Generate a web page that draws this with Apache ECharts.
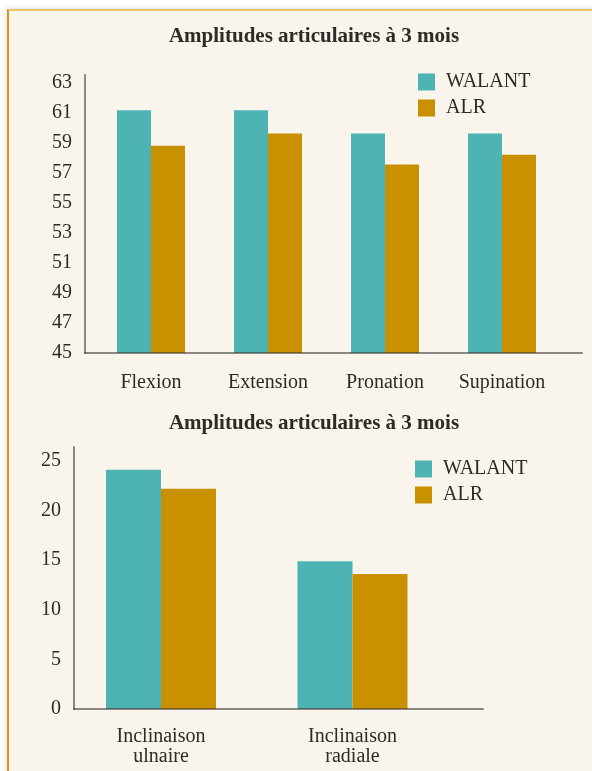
<!DOCTYPE html>
<html>
<head>
<meta charset="utf-8">
<script src="https://cdn.jsdelivr.net/npm/echarts@6/dist/echarts.min.js"></script>
<style>
  html, body { margin: 0; padding: 0; background: #ffffff; width: 592px; height: 771px; overflow: hidden; }
  #box { position: absolute; left: 7px; top: 9px; width: 600px; height: 800px; background: #F9F5EC;
         border-left: 2px solid #CF9A18; border-top: 2px solid #E7C36C; box-shadow: 0 0 6px rgba(0,0,0,0.18); }
  #chart { position: absolute; left: 0; top: 0; width: 592px; height: 771px; }
</style>
</head>
<body>
<div id="box"></div>
<div id="chart"></div>
<script>
// ---- Data ----
const title1 = 'Amplitudes articulaires à 3 mois';
const title2 = 'Amplitudes articulaires à 3 mois';
const seriesNames = ['WALANT', 'ALR'];
const categories1 = ['Flexion', 'Extension', 'Pronation', 'Supination'];
const walant1 = [61.15, 61.15, 59.6, 59.6];
const alr1 = [58.8, 59.6, 57.55, 58.2];
const categories2 = ['Inclinaison\nulnaire', 'Inclinaison\nradiale'];
const walant2 = [24.1, 14.9];
const alr2 = [22.2, 13.6];

// ---- Styles ----
const FONT = '"Liberation Serif", "Times New Roman", serif';
const TEAL = '#4DB4B3';
const GOLD = '#C99100';
const TXT = '#2E2A27';
const AXIS = 'rgba(51,45,40,0.55)';

const chart = echarts.init(document.getElementById('chart'), null, { renderer: 'canvas' });

function valueAxisB(gridIndex, min, max, interval) {
  return {
    type: 'value', gridIndex, min, max, interval,
    axisLine: { show: true, lineStyle: { color: AXIS, width: 2 } },
    axisTick: { show: false },
    splitLine: { show: false },
    axisLabel: { show: true, showMaxLabel: false, margin: 13, color: TXT, fontFamily: FONT, fontSize: 20 },
    z: 5
  };
}
function valueAxisA(gridIndex, min, max, interval) {
  return { type: 'value', gridIndex, min, max, interval, show: false };
}
function catAxis(gridIndex, data, margin) {
  return {
    type: 'category', gridIndex, data,
    axisLine: { show: false }, axisTick: { show: false },
    axisLabel: { margin, color: TXT, fontFamily: FONT, fontSize: 20, lineHeight: 20, interval: 0 }
  };
}
function lineXAxis(gridIndex) {
  return {
    type: 'value', gridIndex, min: 0, max: 1,
    axisLine: { show: true, onZero: false, lineStyle: { color: AXIS, width: 2 } },
    axisTick: { show: false }, axisLabel: { show: false }, splitLine: { show: false },
    z: 5
  };
}
function legend(left, top) {
  return {
    data: seriesNames, orient: 'vertical', left, top, padding: 0,
    itemWidth: 17, itemHeight: 17, itemGap: 6, icon: 'rect',
    selectedMode: false,
    textStyle: { color: TXT, fontFamily: FONT, fontSize: 20, padding: [0, 0, 0, 6], lineHeight: 17 }
  };
}

chart.setOption({
  animation: false,
  backgroundColor: 'transparent',
  graphic: [
    { type: 'text', x: 314, y: 37, style: { text: title1, fill: TXT, font: 'bold 21px ' + FONT, textAlign: 'center', textVerticalAlign: 'middle' } },
    { type: 'text', x: 314, y: 424, style: { text: title2, fill: TXT, font: 'bold 21px ' + FONT, textAlign: 'center', textVerticalAlign: 'middle' } }
  ],
  legend: [legend(418, 72), legend(415, 459)],
  grid: [
    { left: 92.5, width: 468, top: 75, height: 278 },   // bars top
    { left: 85, width: 497, top: 75, height: 278 },     // axes top
    { left: 65.25, width: 383, top: 447, height: 262 }, // bars bottom
    { left: 74, width: 409, top: 447, height: 262 }     // axes bottom
  ],
  xAxis: [
    catAxis(0, categories1, 20),
    lineXAxis(1),
    catAxis(2, categories2, 18),
    lineXAxis(3)
  ],
  yAxis: [
    valueAxisA(0, 45, 63.5, 2),
    valueAxisB(1, 45, 63.5, 2),
    valueAxisA(2, 0, 26.4, 5),
    valueAxisB(3, 0, 26.4, 5)
  ],
  series: [
    { name: seriesNames[0], type: 'bar', xAxisIndex: 0, yAxisIndex: 0, data: walant1, barWidth: 34, barGap: '0%', itemStyle: { color: TEAL } },
    { name: seriesNames[1], type: 'bar', xAxisIndex: 0, yAxisIndex: 0, data: alr1, barWidth: 34, barGap: '0%', itemStyle: { color: GOLD } },
    { name: seriesNames[0], type: 'bar', xAxisIndex: 2, yAxisIndex: 2, data: walant2, barWidth: 55, barGap: '0%', itemStyle: { color: TEAL } },
    { name: seriesNames[1], type: 'bar', xAxisIndex: 2, yAxisIndex: 2, data: alr2, barWidth: 55, barGap: '0%', itemStyle: { color: GOLD } }
  ]
});
</script>
</body>
</html>
